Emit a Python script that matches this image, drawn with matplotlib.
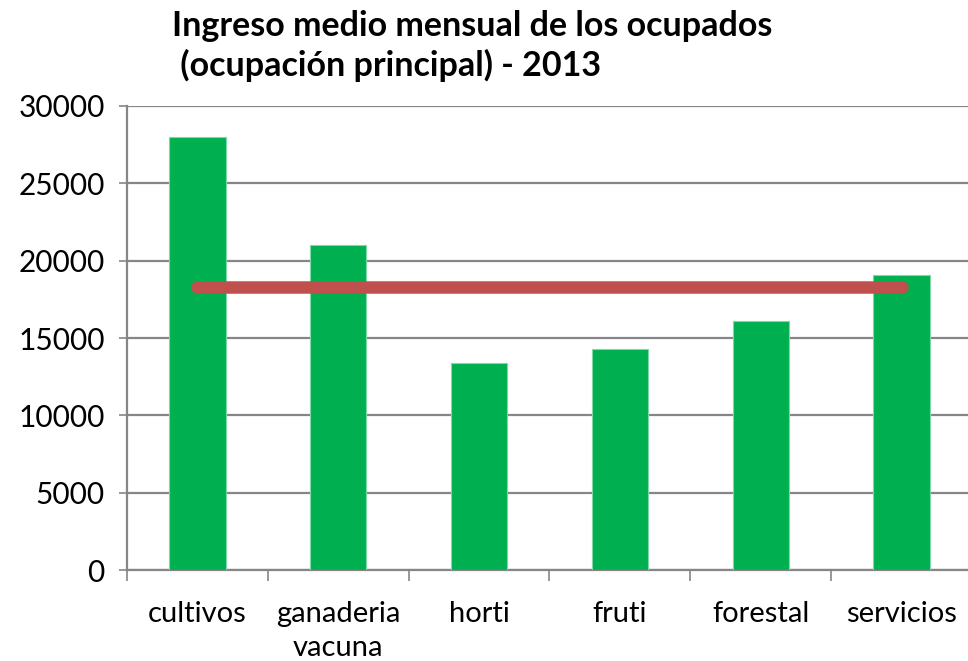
import numpy as np
import matplotlib.pyplot as plt

# data
categorias = ['cultivos', 'ganaderia\nvacuna', 'horti', 'fruti', 'forestal', 'servicios']
ingreso = [28000, 21000, 13370, 14320, 16100, 19060]
promedio = [18280] * len(categorias)
y_ticks = [0, 5000, 10000, 15000, 20000, 25000, 30000]

plt.rcParams['font.family'] = ['Lato', 'DejaVu Sans']

fig = plt.figure(figsize=(9.68, 6.61), dpi=100)
ax = fig.add_axes([127 / 968, 1 - 570.3 / 661, 845 / 968, (570.3 - 105.9) / 661])

x = np.arange(len(categorias))
ax.bar(x, ingreso, width=0.4, color='#00B050', edgecolor='#7FD8A7', linewidth=0.8, zorder=3)
ax.plot(x, promedio, color='#C0504D', linewidth=9, solid_capstyle='round', zorder=4)

ax.set_xlim(-0.5, len(categorias) - 0.5)
ax.set_ylim(0, 30000)
ax.set_yticks(y_ticks)
ax.set_yticklabels([str(v) for v in y_ticks], fontsize=21.5)
ax.yaxis.grid(True, color='#868686', linewidth=1.6, zorder=0)
ax.tick_params(axis='y', length=6, width=1.2, color='#868686', pad=10)

ax.set_xticks(x)
ax.set_xticklabels(categorias, fontsize=21, linespacing=1.4)
ax.set_xticks(np.arange(len(categorias) + 1) - 0.5, minor=True)
ax.tick_params(axis='x', which='major', length=0, pad=22)
ax.tick_params(axis='x', which='minor', length=8, width=1.2, color='#868686')

for s in ['top', 'right']:
    ax.spines[s].set_visible(False)
for s in ['left', 'bottom']:
    ax.spines[s].set_color('#868686')
    ax.spines[s].set_linewidth(1.6)

fig.text(172 / 968, 1 - 10 / 661,
         'Ingreso medio mensual de los ocupados\n (ocupación principal) - 2013',
         fontsize=24.5, fontweight='bold', ha='left', va='top', linespacing=1.25)

fig.savefig('out.png', dpi=100)
